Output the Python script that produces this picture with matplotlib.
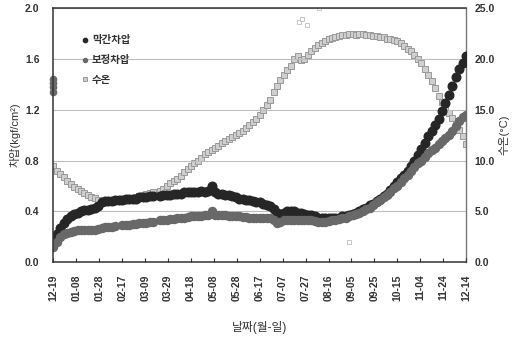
import numpy as np
import matplotlib
matplotlib.use("Agg")
import matplotlib.pyplot as plt

plt.rcParams['font.family'] = ['Liberation Sans', 'Noto Sans CJK KR', 'DejaVu Sans']
plt.rcParams['font.weight'] = 'bold'

# sampling days (every 3 days from 12-19)
days = np.arange(0, 361, 3)

tick_days = np.arange(0, 361, 20)
tick_labels = ["12-19", "01-08", "01-28", "02-17", "03-09", "03-29", "04-18",
               "05-08", "05-28", "06-17", "07-07", "07-27", "08-16", "09-05",
               "09-25", "10-15", "11-04", "11-24", "12-14"]

nan = np.nan

# 막간차압 (kgf/cm2)
tmp = [0.17, 0.22, 0.27, 0.31, 0.34, 0.36, 0.38, 0.39, 0.40, 0.41,
       0.41, 0.42, 0.43, 0.44, 0.47, 0.48, 0.48, 0.48, 0.49, 0.49,
       0.49, 0.50, 0.50, 0.50, 0.50, 0.51, 0.51, 0.51, 0.52, 0.52,
       nan, 0.52, 0.53, 0.53, 0.53, 0.54, 0.54, 0.54, 0.55, 0.55,
       0.55, 0.55, 0.55, 0.56, 0.55, 0.56, 0.60, 0.55, 0.54, 0.54,
       0.53, 0.53, 0.52, 0.51, 0.50, 0.50, 0.49, 0.49, 0.48, 0.47,
       0.47, 0.46, 0.45, 0.44, 0.42, 0.39, 0.38, 0.39, 0.40, 0.40,
       0.40, 0.39, 0.39, 0.38, 0.37, 0.37, 0.36, 0.35, 0.35, 0.35,
       0.35, 0.35, 0.35, 0.35, 0.36, 0.36, 0.37, 0.38, 0.39, 0.40,
       0.42, 0.43, 0.45, 0.46, 0.48, 0.50, 0.52, 0.54, 0.57, 0.60,
       0.63, 0.66, 0.69, 0.72, 0.76, 0.80, 0.84, 0.89, 0.94, 0.99,
       1.03, 1.08, 1.13, 1.19, 1.25, 1.32, 1.39, 1.46, 1.52, 1.57,
       1.62]

# 보정차압 (kgf/cm2)
corr = [0.12, 0.16, 0.20, 0.22, 0.23, 0.24, 0.245, 0.25, 0.25, 0.25,
        0.25, 0.25, 0.255, 0.26, 0.27, 0.275, 0.28, 0.28, 0.285, nan,
        0.29, 0.29, 0.295, 0.30, 0.30, 0.305, 0.31, 0.31, 0.315, 0.32,
        nan, 0.33, 0.33, 0.335, 0.34, 0.34, 0.345, 0.35, 0.35, 0.355,
        0.36, 0.36, 0.365, 0.365, 0.37, 0.37, 0.40, 0.37, 0.37, 0.37,
        0.37, 0.365, 0.365, 0.36, 0.36, 0.355, 0.355, 0.35, 0.35, 0.35,
        0.35, 0.35, 0.345, 0.345, 0.33, 0.31, 0.32, 0.33, 0.335, 0.335,
        0.335, 0.335, 0.335, 0.335, 0.335, 0.33, 0.325, 0.32, 0.32, 0.32,
        0.325, 0.33, 0.335, 0.34, 0.345, 0.35, 0.36, 0.37, 0.38, 0.39,
        0.40, 0.42, 0.43, 0.45, 0.47, 0.49, 0.51, 0.53, 0.55, 0.58,
        0.60, 0.63, 0.66, 0.69, 0.72, 0.75, 0.78, 0.80, 0.83, 0.86,
        0.88, 0.90, 0.93, 0.95, 0.98, 1.00, 1.03, 1.07, 1.11, 1.14,
        1.16]

# 수온 (°C)
temp = [9.5, 9.0, 8.7, 8.4, 8.0, 7.7, 7.4, 7.2, 7.0, 6.8,
        6.6, 6.4, 6.3, 6.1, 6.0, 6.0, 5.9, 5.9, 6.0, 6.1,
        6.0, 6.2, 6.3, 6.1, 6.4, 6.5, 6.6, 6.7, 6.8, 6.9,
        nan, 7.0, 7.2, 7.5, 7.8, 8.0, 8.2, 8.5, 8.9, 9.2,
        9.5, 9.8, 10.0, 10.3, 10.6, 10.8, 11.0, 11.2, 11.4, 11.7,
        11.9, 12.1, 12.3, 12.5, 12.7, 12.9, 13.2, 13.5, 13.8, 14.1,
        14.5, 15.0, 15.5, 16.0, 16.7, 17.3, 17.9, 18.4, 18.9, 19.3,
        20.0, 20.3, 19.9, 20.0, 20.4, 20.8, 21.1, 21.4, 21.6, 21.8,
        22.0, 22.1, 22.2, 22.3, 22.4, 22.4, 22.5, 22.5, 22.4, 22.5,
        22.5, 22.4, 22.4, 22.3, 22.3, 22.2, 22.2, 22.0, 22.0, 21.9,
        21.8, 21.6, 21.3, 21.0, 20.8, 20.4, 20.0, 19.6, 19.0, 18.4,
        17.8, 17.1, 16.4, 15.8, 15.2, 14.7, 14.2, 13.6, 13.0, 12.4,
        11.6]

# stray readings
corr_out_days = [0, 0, 0, 0]
corr_out = [1.34, 1.38, 1.41, 1.44]
temp_out_days = [214, 217, 221, 232, 258]
temp_out = [23.6, 23.9, 23.3, 25.0, 2.0]

fig = plt.figure(figsize=(5.19, 3.40), dpi=100)
ax = fig.add_axes([0.103, 0.229, 0.795, 0.747])
ax2 = ax.twinx()

ax2.plot(days, temp, ls='none', marker='s', ms=5, mfc='#cfcfcf', mec='#999999',
         mew=0.7, label='수온')
ax2.plot(temp_out_days, temp_out, ls='none', marker='s', ms=3, mfc='white',
         mec='#b0b0b0', mew=0.5)

ax.plot(days, tmp, ls='none', marker='o', ms=6.2, mfc='#262626', mec='#262626',
        label='막간차압')
ax.plot(days, corr, ls='none', marker='o', ms=5.8, mfc='#686868', mec='#686868',
        label='보정차압')
ax.plot(corr_out_days, corr_out, ls='none', marker='o', ms=4.5, mfc='#6a6a6a',
        mec='#6a6a6a', clip_on=False)

ax.set_zorder(ax2.get_zorder() + 1)
ax.patch.set_visible(False)

ax.set_xlim(0, 360)
ax.set_ylim(0, 2.0)
ax2.set_ylim(0, 25)
ax.set_yticks(np.arange(0, 2.01, 0.4))
ax.set_yticklabels([f"{v:.1f}" for v in np.arange(0, 2.01, 0.4)])
ax2.set_yticks(np.arange(0, 25.1, 5))
ax2.set_yticklabels([f"{v:.1f}" for v in np.arange(0, 25.1, 5)])
ax.set_xticks(tick_days)
ax.set_xticklabels(tick_labels, rotation=90)

for a in (ax, ax2):
    a.tick_params(axis='both', direction='in', length=3, width=0.8,
                  labelsize=7.5, colors='#333333')
ax.tick_params(axis='x', pad=9)
ax.tick_params(axis='y', length=0, pad=10)
ax2.tick_params(axis='y', length=0, pad=6)

ax.yaxis.grid(True, color='#bdbdbd', lw=0.8)
ax.set_axisbelow(True)

for side in ('left', 'bottom', 'top'):
    ax.spines[side].set_color('#333333')
    ax.spines[side].set_linewidth(1.1)
ax.spines['right'].set_visible(False)
ax2.spines['right'].set_color('#777777')
ax2.spines['right'].set_linewidth(1.0)
for side in ('left', 'bottom', 'top'):
    ax2.spines[side].set_visible(False)

ax.set_ylabel("차압(kgf/cm²)", fontsize=8, color='#333333', labelpad=3)
ax2.set_ylabel("수온(°C)", fontsize=8, color='#333333', rotation=90, labelpad=3)
ax.set_xlabel("날짜(월-일)", fontsize=8.5, color='#333333', labelpad=14)

h1, l1 = ax.get_legend_handles_labels()
h2, l2 = ax2.get_legend_handles_labels()
leg = ax.legend(h1 + h2, l1 + l2, loc='upper left', bbox_to_anchor=(0.04, 0.93),
                frameon=False, fontsize=7.5, handletextpad=0.2, labelspacing=0.95,
                markerscale=0.5, handlelength=1.0)
for t in leg.get_texts():
    t.set_color('#333333')

fig.savefig("out.png", dpi=100)
